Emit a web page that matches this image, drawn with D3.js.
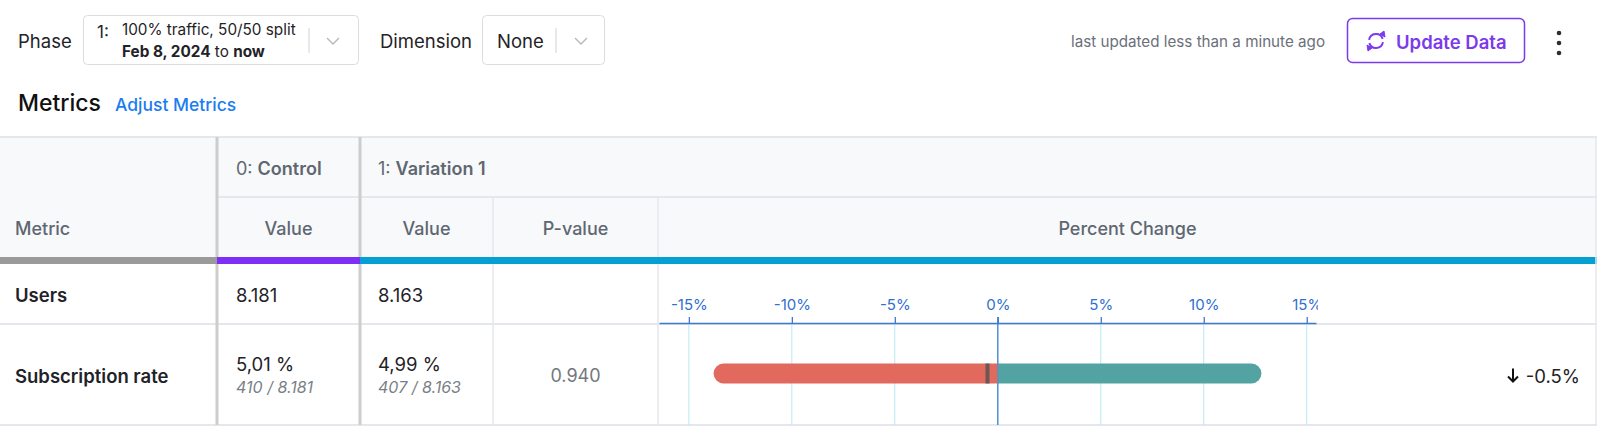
<!DOCTYPE html>
<html>
<head>
<meta charset="utf-8">
<script src="https://cdn.jsdelivr.net/npm/d3@7"></script>
<style>
  body { margin: 0; background: #fff; font-family: Inter, "Noto Sans", sans-serif; }
  svg text { font-family: Inter, "Noto Sans", sans-serif; }
</style>
</head>
<body>
<div id="chart"></div>
<script>
const WIDTH = 1600;
const HEIGHT = 443;

// datos de la tabla
const metrics = ["Users", "Subscription rate"];
const controlValues = ["8.181", "5,01 %"];
const controlDetails = ["", "410 / 8.181"];
const variationValues = ["8.163", "4,99 %"];
const variationDetails = ["", "407 / 8.163"];
const pValues = ["", "0.940"];
const ciLow = [null, -13.8];
const ciHigh = [null, 12.8];
const changes = [null, -0.5];
const changeLabels = ["", "-0.5%"];
const tickValues = [-15, -10, -5, 0, 5, 10, 15];
const axisDomain = [-16.45, 15.45];

const svg = d3.select("#chart")
    .append("svg")
    .attr("width", WIDTH)
    .attr("height", HEIGHT);

const txt = "#1f2328";
const headTxt = "#5f6771";
const lineCol = "#e4e7ec";
const BODY = 18.5;
const HEAD = 18;

// ---------- barra superior ----------
function label(x, y, s, opts) {
    opts = opts || {};
    return svg.append("text")
        .attr("x", x).attr("y", y)
        .attr("dominant-baseline", "central")
        .attr("text-anchor", opts.anchor || "start")
        .attr("font-size", opts.size || BODY)
        .attr("font-weight", opts.weight || 400)
        .attr("font-style", opts.style || "normal")
        .attr("fill", opts.fill || txt)
        .text(s);
}

function chevron(cx, cy) {
    svg.append("path")
        .attr("d", `M${cx - 6},${cy - 3} L${cx},${cy + 3} L${cx + 6},${cy - 3}`)
        .attr("fill", "none")
        .attr("stroke", "#b8bcc2")
        .attr("stroke-width", 1.5);
}

label(18, 41, "Phase");
svg.append("rect").attr("x", 83.5).attr("y", 15.5).attr("width", 275).attr("height", 49)
    .attr("rx", 4).attr("fill", "#fff").attr("stroke", "#d9dce1");
label(97, 32, "1:", { size: 17 });
label(122, 29, "100% traffic, 50/50 split", { size: 15.3 });
const l2 = svg.append("text").attr("x", 122).attr("y", 51).attr("dominant-baseline", "central")
    .attr("font-size", 15.3).attr("fill", txt);
l2.append("tspan").attr("font-weight", 700).text("Feb 8, 2024");
l2.append("tspan").text(" to ");
l2.append("tspan").attr("font-weight", 700).text("now");
svg.append("line").attr("x1", 309).attr("x2", 309).attr("y1", 28).attr("y2", 53).attr("stroke", "#cfd2d6");
chevron(333, 41);

label(380, 41, "Dimension");
svg.append("rect").attr("x", 482.5).attr("y", 15.5).attr("width", 122).attr("height", 49)
    .attr("rx", 4).attr("fill", "#fff").attr("stroke", "#d9dce1");
label(497, 41, "None");
svg.append("line").attr("x1", 556).attr("x2", 556).attr("y1", 28).attr("y2", 53).attr("stroke", "#cfd2d6");
chevron(581, 41);

label(1325, 41, "last updated less than a minute ago", { size: 15.2, fill: "#6b7079", anchor: "end" });

const purple = "#7c3aed";
svg.append("rect").attr("x", 1347.5).attr("y", 18.5).attr("width", 177).attr("height", 44)
    .attr("rx", 5).attr("fill", "#fff").attr("stroke", purple).attr("stroke-width", 1.5);
// icono de refrescar
const ic = d3.path();
ic.arc(1376, 41, 7, -Math.PI * 0.95, -Math.PI * 0.1);
ic.moveTo(1376 + 7 * Math.cos(Math.PI * 0.05), 41 + 7 * Math.sin(Math.PI * 0.05));
ic.arc(1376, 41, 7, Math.PI * 0.05, Math.PI * 0.9);
svg.append("path").attr("d", ic.toString()).attr("fill", "none").attr("stroke", purple).attr("stroke-width", 2);
svg.append("path").attr("d", "M1380,34 L1385,37 L1384,31 Z M1372,48 L1367,45 L1368,51 Z")
    .attr("fill", purple).attr("stroke", purple).attr("stroke-width", 1);
label(1396, 42, "Update Data", { size: 18.5, weight: 600, fill: purple });

[33, 43, 53].forEach(function(y) {
    svg.append("circle").attr("cx", 1559).attr("cy", y).attr("r", 2.3).attr("fill", "#2b2f33");
});

label(18, 103, "Metrics", { size: 23, weight: 500, fill: "#111" });
label(115, 104, "Adjust Metrics", { size: 17.5, weight: 500, fill: "#1a7cf0" });

// ---------- tabla ----------
const T = { top: 137, group: 197, head: 257, right: 1597 };
const rowEdges = [264, 324, 425];
const cols = [0, 217, 360, 493, 658, 1597];

svg.append("rect").attr("x", 0).attr("y", T.top).attr("width", T.right).attr("height", T.head - T.top)
    .attr("fill", "#f8f9fb");
svg.append("line").attr("x1", 0).attr("x2", T.right).attr("y1", T.top).attr("y2", T.top)
    .attr("stroke", lineCol).attr("stroke-width", 2);
svg.append("line").attr("x1", cols[1]).attr("x2", T.right).attr("y1", T.group).attr("y2", T.group)
    .attr("stroke", lineCol).attr("stroke-width", 2);

// barras de color bajo la cabecera
[["#9a9a9a", 0, cols[1]], ["#7b2ff7", cols[1], cols[2]], ["#069fd3", cols[2], T.right]].forEach(function(b) {
    svg.append("rect").attr("x", b[1]).attr("y", T.head).attr("width", b[2] - b[1]).attr("height", 7).attr("fill", b[0]);
});

rowEdges.slice(1).forEach(function(y) {
    svg.append("line").attr("x1", 0).attr("x2", T.right).attr("y1", y).attr("y2", y)
        .attr("stroke", lineCol).attr("stroke-width", 2);
});

// bordes verticales
[cols[3], cols[4]].forEach(function(x) {
    svg.append("line").attr("x1", x).attr("x2", x).attr("y1", T.group).attr("y2", T.head)
        .attr("stroke", lineCol).attr("stroke-width", 1.5);
    svg.append("line").attr("x1", x).attr("x2", x).attr("y1", rowEdges[0]).attr("y2", rowEdges[2])
        .attr("stroke", lineCol).attr("stroke-width", 1.5);
});
svg.append("line").attr("x1", 1596).attr("x2", 1596).attr("y1", T.top).attr("y2", rowEdges[2])
    .attr("stroke", lineCol).attr("stroke-width", 1.5);
[cols[1], cols[2]].forEach(function(x) {
    svg.append("line").attr("x1", x).attr("x2", x).attr("y1", T.top).attr("y2", T.head)
        .attr("stroke", "#cdcdcd").attr("stroke-width", 3);
    svg.append("line").attr("x1", x).attr("x2", x).attr("y1", rowEdges[0]).attr("y2", rowEdges[2])
        .attr("stroke", "#cdcdcd").attr("stroke-width", 3);
});

// textos de cabecera
const g1 = svg.append("text").attr("x", 236).attr("y", 168).attr("dominant-baseline", "central")
    .attr("font-size", HEAD).attr("fill", headTxt);
g1.append("tspan").text("0: ");
g1.append("tspan").attr("font-weight", 600).text("Control");
const g2 = svg.append("text").attr("x", 378).attr("y", 168).attr("dominant-baseline", "central")
    .attr("font-size", HEAD).attr("fill", headTxt);
g2.append("tspan").text("1: ");
g2.append("tspan").attr("font-weight", 600).text("Variation 1");

const headY = 228;
label(15, headY, "Metric", { size: HEAD, weight: 500, fill: headTxt });
label((cols[1] + cols[2]) / 2, headY, "Value", { size: HEAD, weight: 500, fill: headTxt, anchor: "middle" });
label((cols[2] + cols[3]) / 2, headY, "Value", { size: HEAD, weight: 500, fill: headTxt, anchor: "middle" });
label((cols[3] + cols[4]) / 2, headY, "P-value", { size: HEAD, weight: 500, fill: headTxt, anchor: "middle" });
label((cols[4] + cols[5]) / 2, headY, "Percent Change", { size: HEAD, weight: 500, fill: headTxt, anchor: "middle" });

// filas
metrics.forEach(function(m, i) {
    const cy = (rowEdges[i] + rowEdges[i + 1]) / 2 + 1;
    label(15, cy, m, { weight: 600 });
    const hasDetail = controlDetails[i] !== "";
    const vy = hasDetail ? cy - 12 : cy;
    label(236, vy, controlValues[i]);
    label(378, vy, variationValues[i]);
    if (hasDetail) {
        label(236, cy + 11, controlDetails[i], { size: 16, style: "italic", fill: "#7a7f86" });
        label(378, cy + 11, variationDetails[i], { size: 16, style: "italic", fill: "#7a7f86" });
    }
    if (pValues[i] !== "") {
        label((cols[3] + cols[4]) / 2, cy, pValues[i], { size: 18, fill: "#73787e", anchor: "middle" });
    }
});

// ---------- grafico de cambio porcentual ----------
const axisY = 323;
const x = d3.scaleLinear().domain(axisDomain).range([659, 1316]);

svg.append("g")
    .attr("stroke", "#b9e8f2")
    .selectAll("line")
    .data(tickValues.filter(function(d) { return d !== 0; }))
    .enter().append("line")
    .attr("x1", function(d) { return x(d); })
    .attr("x2", function(d) { return x(d); })
    .attr("y1", axisY)
    .attr("y2", rowEdges[2]);

svg.append("line")
    .attr("x1", x(0)).attr("x2", x(0))
    .attr("y1", axisY - 6).attr("y2", rowEdges[2])
    .attr("stroke", "#4e8fd3").attr("stroke-width", 1.5);

// el recorte va en coordenadas locales del grupo del eje
svg.append("clipPath").attr("id", "axisClip")
    .append("rect").attr("x", 640).attr("y", -45).attr("width", 1318 - 640).attr("height", 60);

const axis = svg.append("g")
    .attr("transform", `translate(0,${axisY})`)
    .attr("clip-path", "url(#axisClip)")
    .call(d3.axisTop(x)
        .tickValues(tickValues)
        .tickFormat(function(d) { return d + "%"; })
        .tickSize(6)
        .tickSizeOuter(0)
        .tickPadding(7));
axis.select(".domain").attr("stroke", "#3f78d1").attr("stroke-width", 1.5);
axis.selectAll(".tick line").attr("stroke", "#3f78d1").attr("stroke-width", 1.3);
axis.selectAll(".tick text").attr("fill", "#2f6fd0").attr("font-size", 15)
    .attr("font-family", "Inter, 'Noto Sans', sans-serif");

const barH = 20;
metrics.forEach(function(m, i) {
    if (changes[i] === null) return;
    const cy = (rowEdges[i] + rowEdges[i + 1]) / 2;
    const y0 = cy - barH / 2 - 1;
    const lo = x(ciLow[i]), hi = x(ciHigh[i]);

    svg.append("clipPath").attr("id", "neg" + i)
        .append("rect").attr("x", lo - 5).attr("y", y0 - 2).attr("width", x(0) - lo + 5).attr("height", barH + 4);
    svg.append("clipPath").attr("id", "pos" + i)
        .append("rect").attr("x", x(0)).attr("y", y0 - 2).attr("width", hi - x(0) + 5).attr("height", barH + 4);

    svg.append("rect")
        .attr("clip-path", `url(#neg${i})`)
        .attr("x", lo).attr("y", y0).attr("width", hi - lo).attr("height", barH)
        .attr("rx", barH / 2).attr("fill", "#e2695e");
    svg.append("rect")
        .attr("clip-path", `url(#pos${i})`)
        .attr("x", lo).attr("y", y0).attr("width", hi - lo).attr("height", barH)
        .attr("rx", barH / 2).attr("fill", "#52a3a2");
    svg.append("rect")
        .attr("x", x(changes[i]) - 2).attr("y", y0).attr("width", 4).attr("height", barH)
        .attr("fill", "#555").attr("opacity", 0.85);
    // la linea del 0 pasa por encima de la barra
    svg.append("line")
        .attr("x1", x(0)).attr("x2", x(0)).attr("y1", y0).attr("y2", y0 + barH)
        .attr("stroke", "#4e8fd3").attr("stroke-width", 1.2).attr("opacity", 0.7);

    // flecha y etiqueta
    const ax = 1513, ay = cy + 1;
    svg.append("path")
        .attr("d", `M${ax},${ay - 7} L${ax},${ay + 6} M${ax - 5},${ay + 1} L${ax},${ay + 6} L${ax + 5},${ay + 1}`)
        .attr("fill", "none").attr("stroke", "#111").attr("stroke-width", 2);
    label(1580, cy + 1, changeLabels[i], { anchor: "end", fill: "#1f2328" });
});
</script>
</body>
</html>
